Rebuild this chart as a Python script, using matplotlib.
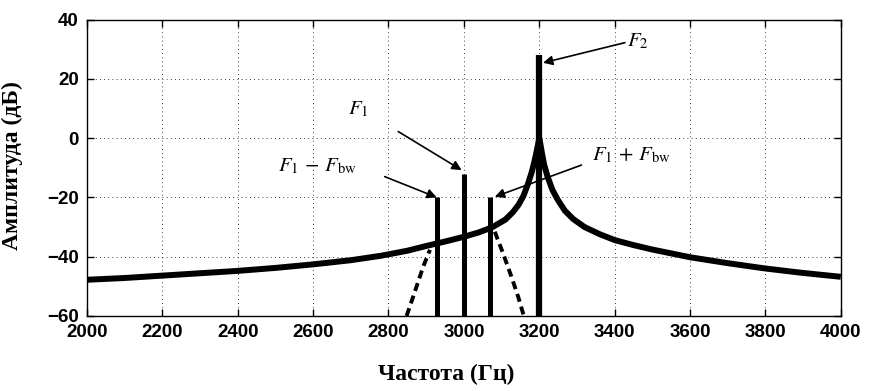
import numpy as np
import matplotlib.pyplot as plt

# spectrum
curve_f = [2000, 2100, 2200, 2300, 2400, 2500, 2600, 2700, 2780, 2850, 2900, 2950,
           3000, 3040, 3075, 3110, 3130, 3145, 3158, 3170, 3180, 3187, 3193, 3197,
           3200, 3203, 3207, 3213, 3222, 3235, 3250, 3268, 3290, 3320, 3360, 3400,
           3450, 3500, 3600, 3700, 3800, 3900, 4000]
curve_db = [-47.8, -47.2, -46.4, -45.6, -44.8, -43.8, -42.6, -41.2, -39.7, -38.0, -36.4, -34.9,
            -33.3, -31.8, -30.1, -27.5, -25.0, -22.5, -19.5, -15.5, -11.5, -8.0, -4.5, -2.0,
            0.0, -2.0, -5.0, -9.0, -13.0, -17.5, -21.0, -24.5, -27.3, -30.0, -32.4, -34.4,
            -36.1, -37.6, -40.2, -42.2, -44.0, -45.5, -46.8]

# dashed tails
left_f = [2848, 2870, 2892, 2910]
left_db = [-60, -51.8, -43.4, -37.7]
right_f = [3082, 3104, 3126, 3144, 3159]
right_db = [-31.6, -38.9, -46.7, -53.5, -60]

# spectral lines
line_f = [2930, 3000, 3070]
line_db = [-20, -12, -20]
f2 = 3200
f2_db = 28

plt.rcParams['mathtext.fontset'] = 'stix'

fig = plt.figure(figsize=(8.74, 3.91), dpi=100)
ax = fig.add_axes([0.0995, 0.192, 0.8625, 0.758])

ax.plot(curve_f, curve_db, color='black', lw=4.3, solid_joinstyle='round', solid_capstyle='butt')
ax.plot(left_f, left_db, color='black', lw=2.8, dashes=(2.1, 1.3))
ax.plot(right_f, right_db, color='black', lw=2.8, dashes=(2.1, 1.3))
ax.vlines(line_f, -60, line_db, color='black', lw=3.6)
ax.vlines(f2, -60, f2_db, color='black', lw=4.5)

ax.set_xlim(2000, 4000)
ax.set_ylim(-60, 40)
ax.set_xticks(np.arange(2000, 4001, 200))
ax.set_yticks(np.arange(-60, 41, 20))
ax.grid(True, color='black', linestyle=(0, (1, 4)), lw=0.6)
ax.tick_params(direction='in', top=True, right=True, length=5, width=1, pad=6)
for lab in ax.get_xticklabels() + ax.get_yticklabels():
    lab.set_fontfamily('Liberation Sans')
    lab.set_fontweight('bold')
    lab.set_fontsize(13.5)
for s in ax.spines.values():
    s.set_linewidth(1)

ax.set_xlabel('Частота (Гц)', fontfamily='Liberation Serif', fontweight='bold', fontsize=17, va='center')
ax.set_ylabel('Амплитуда (дБ)', fontfamily='Liberation Serif', fontweight='bold', fontsize=17, va='center')
ax.xaxis.set_label_coords(0.477, -0.197)
ax.yaxis.set_label_coords(-0.0995, 0.508)

arrow = dict(arrowstyle='-|>', color='black', lw=1.2, mutation_scale=14, shrinkA=0, shrinkB=0)
ax.annotate('', xy=(3210, 25.4), xytext=(3427, 32.2), arrowprops=arrow)
ax.annotate('', xy=(2994, -10.8), xytext=(2826, 2.2), arrowprops=arrow)
ax.annotate('', xy=(2928, -20), xytext=(2790, -13), arrowprops=arrow)
ax.annotate('', xy=(3082, -19.8), xytext=(3312, -9.1), arrowprops=arrow)

ax.text(3432, 32.7, r'$F_2$', fontsize=15, ha='left', va='center')
ax.text(2721, 9.8, r'$F_1$', fontsize=15, ha='center', va='center')
ax.text(2611, -9.4, r'$F_1\,-\,F_{\rm bw}$', fontsize=15, ha='center', va='center')
ax.text(3444, -5.7, r'$F_1\,+\,F_{\rm bw}$', fontsize=15, ha='center', va='center')

fig.savefig('out.png', dpi=100)
